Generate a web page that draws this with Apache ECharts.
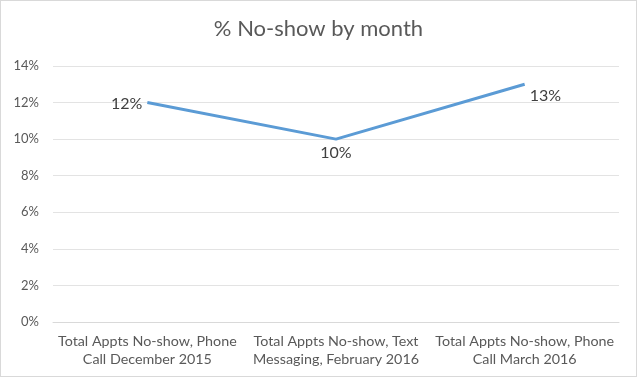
<!DOCTYPE html>
<html>
<head>
<meta charset="utf-8">
<script src="https://cdn.jsdelivr.net/npm/echarts@6/dist/echarts.min.js"></script>
<style>
  html, body { margin: 0; padding: 0; background: #fff; }
  #chart { width: 635px; height: 375px; border: 1px solid #d9d9d9; }
</style>
</head>
<body>
<div id="chart"></div>
<script>
// % no-show per period
const categories = [
  "Total Appts No-show, Phone\nCall December 2015",
  "Total Appts No-show, Text\nMessaging, February 2016",
  "Total Appts No-show, Phone\nCall March 2016",
];
const noShowPct = [0.12, 0.10, 0.13];
const labelPos = ["left", "bottom", "right"]; // where Excel put each data label

const FONT = "Lato, 'Open Sans', sans-serif";
const LINE = "#5b9bd5";

echarts.init(document.getElementById("chart")).setOption({
  animation: false,
  title: {
    text: "% No-show by month", left: "center", top: 12,
    textStyle: { fontFamily: FONT, fontSize: 22, fontWeight: "normal", color: "#595959" },
  },
  grid: { left: 52, right: 17, top: 65, bottom: 54 },
  xAxis: {
    type: "category", data: categories,
    axisLine: { lineStyle: { color: "#d9d9d9" } },
    axisTick: { show: false },
    axisLabel: { fontFamily: FONT, fontSize: 14.3, color: "#595959", lineHeight: 18, margin: 10, interval: 0 },
  },
  yAxis: {
    type: "value", min: 0, max: 0.14, interval: 0.02,
    axisLine: { show: false }, axisTick: { show: false },
    splitLine: { lineStyle: { color: "#e3e3e3" } },
    axisLabel: {
      fontFamily: FONT, fontSize: 13, color: "#595959", margin: 14,
      formatter: (v) => Math.round(v * 100) + "%",
    },
  },
  series: [{
    type: "line", symbol: "circle", symbolSize: 2, showSymbol: true,
    itemStyle: { color: "rgba(0,0,0,0)", borderWidth: 0 },
    lineStyle: { color: LINE, width: 3 },
    label: { show: true },
    data: noShowPct.map((v, i) => ({
      value: v,
      label: {
        show: true, position: labelPos[i],
        offset: i === 2 ? [0, 12] : [0, 1],
        distance: 4,
        fontFamily: FONT, fontSize: 16, color: "#404040",
        formatter: (p) => Math.round(p.value * 100) + "%",
      },
    })),
  }],
});
</script>
</body>
</html>
